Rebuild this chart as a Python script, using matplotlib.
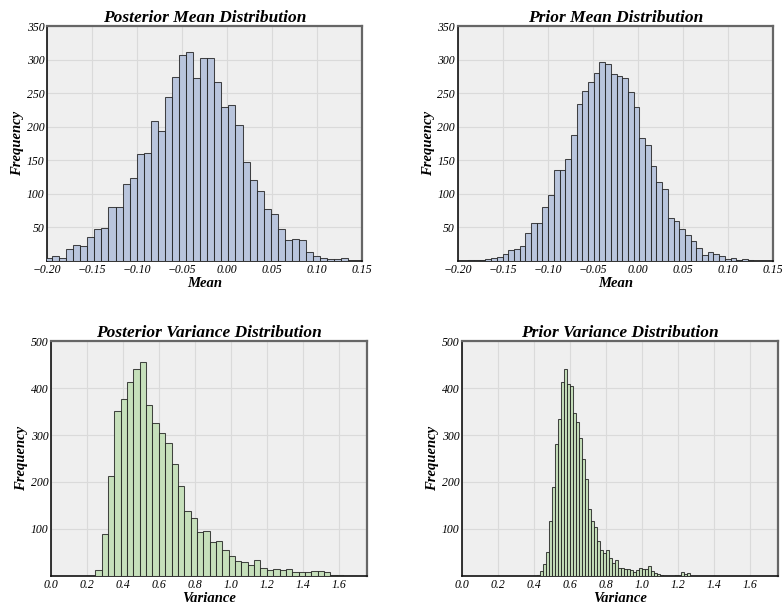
import numpy as np
import matplotlib
matplotlib.use('Agg')
import matplotlib.pyplot as plt

# histogram counts, with the range each set of bins covers
post_mean_range = (-0.2023, 0.1349)
post_mean_counts = [5, 8, 5, 18, 24, 23, 35, 47, 49, 80, 80, 114, 124, 160, 161,
                    209, 194, 245, 274, 307, 312, 272, 302, 303, 266, 229, 233, 202,
                    147, 121, 104, 77, 70, 47, 32, 33, 32, 14, 8, 5, 3, 3, 4]

prior_mean_range = (-0.1882, 0.1278)
prior_mean_counts = [1, 1, 2, 3, 5, 6, 10, 17, 18, 23, 42, 56, 57, 81, 98, 136, 135,
                     152, 187, 234, 253, 266, 280, 297, 293, 278, 275, 273, 251, 229,
                     183, 173, 141, 117, 107, 64, 60, 48, 39, 30, 19, 9, 13, 11, 7,
                     3, 5, 2, 3, 1]

post_var_range = (0.211, 1.694)
post_var_counts = [1, 13, 89, 213, 352, 376, 413, 440, 455, 364, 325, 304, 284, 238,
                   191, 138, 123, 94, 96, 72, 74, 55, 43, 32, 30, 23, 35, 17, 12, 15,
                   13, 15, 8, 8, 9, 11, 10, 9, 3, 2, 1, 1]

prior_var_range = (0.416, 1.265)
prior_var_counts = [3, 11, 25, 50, 118, 189, 280, 333, 413, 440, 408, 405, 347, 327,
                    294, 248, 206, 142, 117, 104, 74, 55, 48, 55, 39, 28, 34, 18, 16,
                    15, 14, 12, 8, 13, 17, 15, 14, 22, 11, 7, 4, 2, 1, 1, 1, 1, 2, 0,
                    8, 4, 7]

mean_ticks = [-0.20, -0.15, -0.10, -0.05, 0.00, 0.05, 0.10, 0.15]
mean_yticks = [50, 100, 150, 200, 250, 300, 350]
var_ticks = [0.0, 0.2, 0.4, 0.6, 0.8, 1.0, 1.2, 1.4, 1.6]
var_yticks = [100, 200, 300, 400, 500]

plt.rcParams['font.family'] = 'Liberation Serif'
plt.rcParams['axes.unicode_minus'] = True

fig = plt.figure(figsize=(7.82, 6.04), dpi=100)

panels = [
    ([0.0601, 0.5679, 0.4028, 0.389], post_mean_range, post_mean_counts, '#b9c5dd',
     'Posterior Mean Distribution', 'Mean', (-0.20, 0.15), mean_ticks, '{:.2f}', 350, mean_yticks),
    ([0.5853, 0.5679, 0.4036, 0.389], prior_mean_range, prior_mean_counts, '#b9c5dd',
     'Prior Mean Distribution', 'Mean', (-0.20, 0.15), mean_ticks, '{:.2f}', 350, mean_yticks),
    ([0.0652, 0.0464, 0.4040, 0.389], post_var_range, post_var_counts, '#c6e0bb',
     'Posterior Variance Distribution', 'Variance', (0, 1.756), var_ticks, '{:.1f}', 500, var_yticks),
    ([0.5912, 0.0464, 0.4033, 0.389], prior_var_range, prior_var_counts, '#c6e0bb',
     'Prior Variance Distribution', 'Variance', (0, 1.756), var_ticks, '{:.1f}', 500, var_yticks),
]

for pos, rng, counts, color, title, xlabel, xlim, xt, fmt, ymax, yt in panels:
    ax = fig.add_axes(pos)
    ax.set_facecolor('#efefef')
    edges = np.linspace(rng[0], rng[1], len(counts) + 1)
    ax.hist(edges[:-1], bins=edges, weights=counts, facecolor=color,
            edgecolor=(0.1, 0.1, 0.1, 0.8), linewidth=0.75, zorder=3)
    ax.set_xlim(*xlim)
    ax.set_ylim(0, ymax)
    ax.set_xticks(xt)
    ax.set_xticklabels([fmt.format(v).replace('-', '\u2212') for v in xt],
                       fontstyle='italic', fontsize=8.5)
    ax.set_yticks(yt)
    ax.set_yticklabels([str(v) for v in yt], fontstyle='italic', fontsize=8.5)
    ax.tick_params(length=0, pad=2)
    ax.grid(True, color='#dadada', linewidth=0.8, zorder=0)
    ax.set_axisbelow(True)
    ax.set_title(title, fontsize=12.5, fontweight='bold', fontstyle='italic', pad=3)
    ax.set_xlabel(xlabel, fontsize=10.5, fontweight='bold', fontstyle='italic', labelpad=1)
    ax.set_ylabel('Frequency', fontsize=10.5, fontweight='bold', fontstyle='italic', labelpad=2)
    for side in ['top', 'right']:
        ax.spines[side].set_color('#666666')
        ax.spines[side].set_linewidth(1.6)
    for side in ['bottom', 'left']:
        ax.spines[side].set_color('#111111')
        ax.spines[side].set_linewidth(1.2)

plt.savefig('out.png', dpi=100)
